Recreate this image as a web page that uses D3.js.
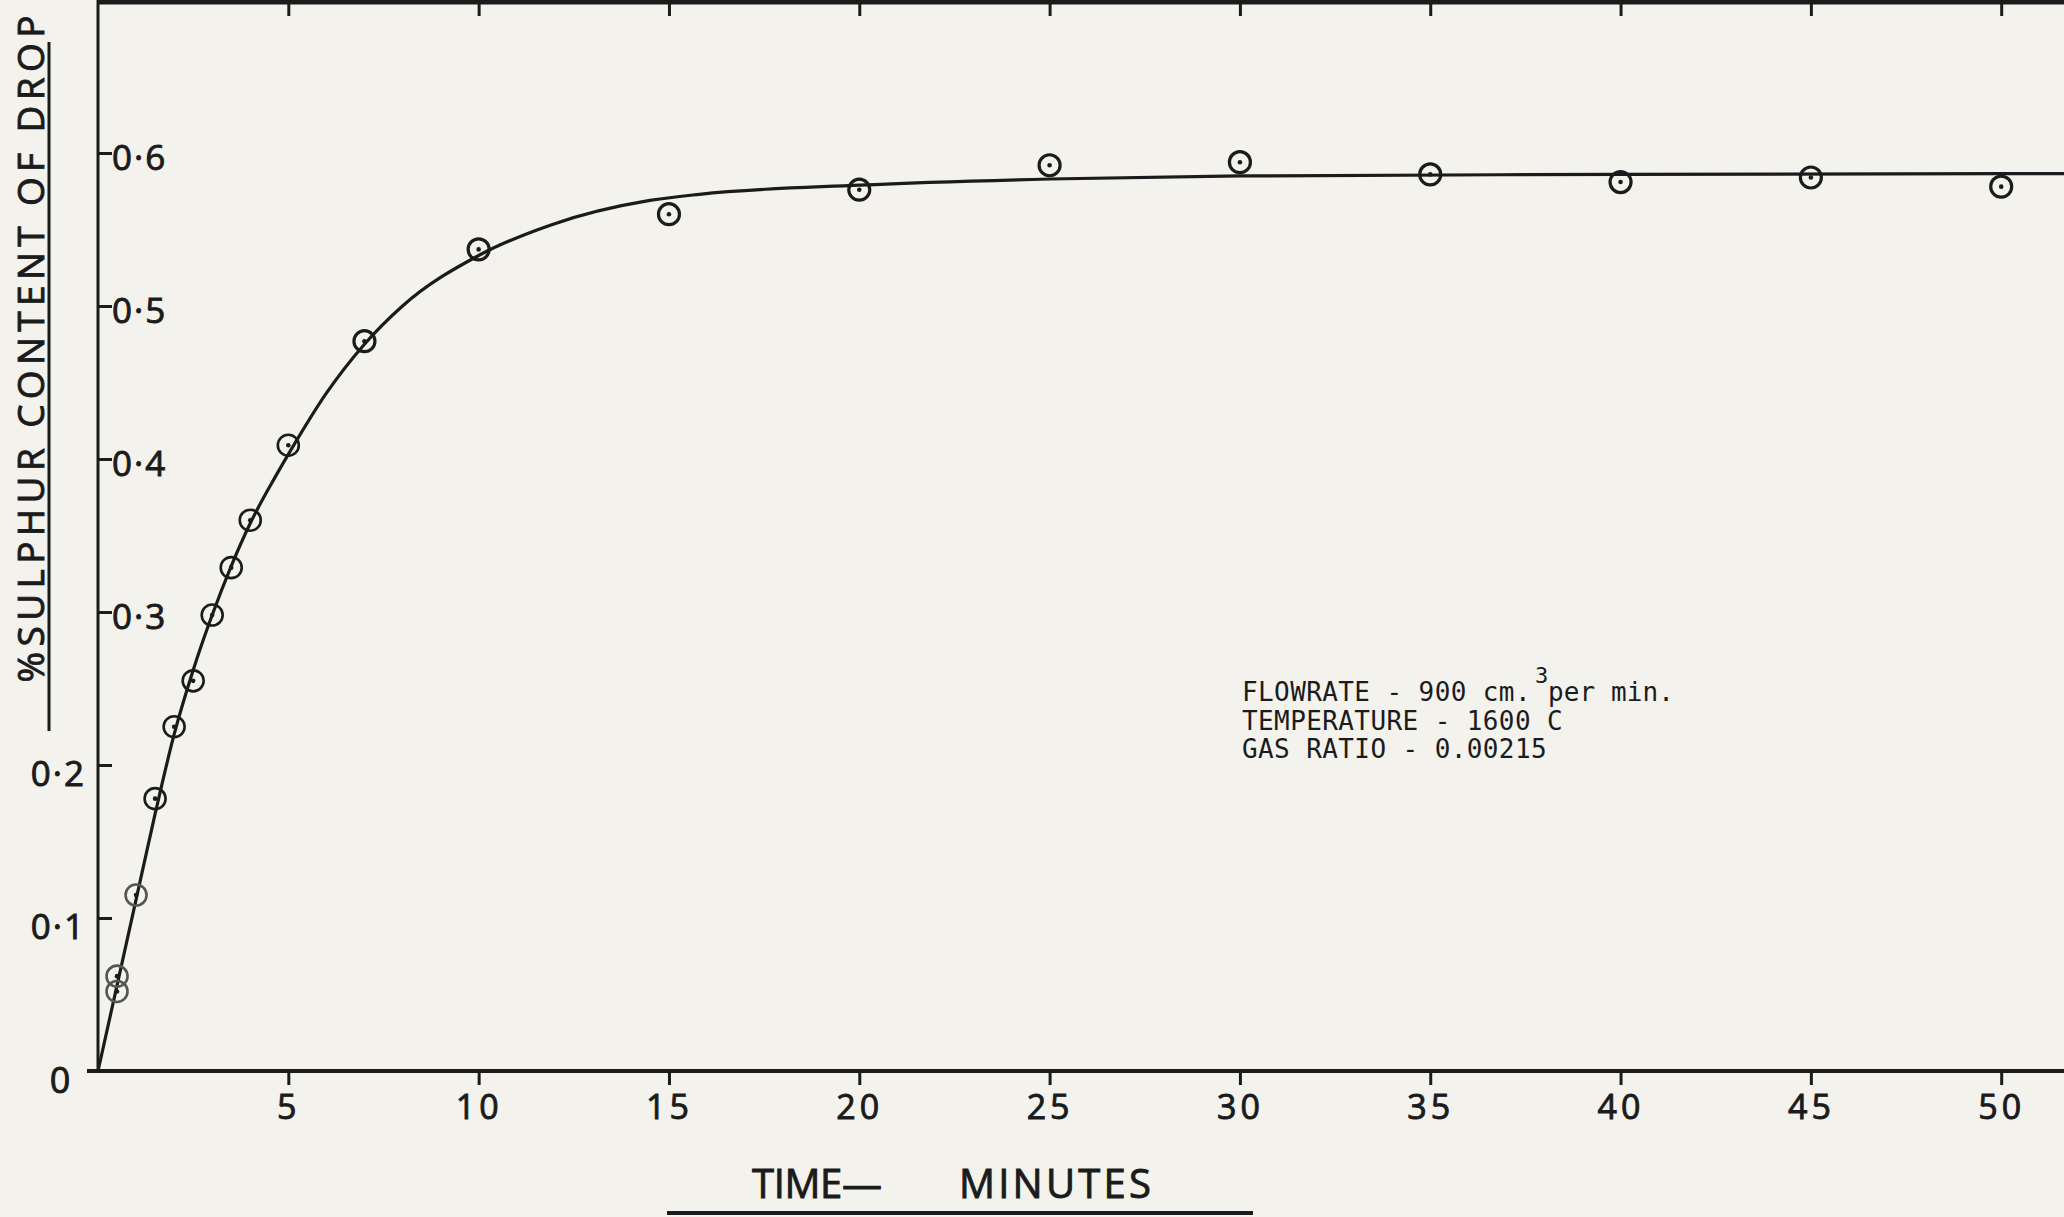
<!DOCTYPE html>
<html><head><meta charset="utf-8">
<script src="https://cdn.jsdelivr.net/npm/d3@7"></script>
<style>html,body{margin:0;padding:0;background:#f3f2ed;overflow:hidden}</style>
</head><body><svg id="c" width="2064" height="1217"></svg>
<script>
// ---- data ----
const times   = [0.5, 0.5, 1, 1.5, 2, 2.5, 3, 3.5, 4, 5, 7, 10, 15, 20, 25, 30, 35, 40, 45, 50];
const sulphur = [0.052, 0.062, 0.115, 0.178, 0.225, 0.255, 0.298, 0.329, 0.360, 0.409, 0.477, 0.537, 0.560, 0.576, 0.592, 0.594, 0.586, 0.581, 0.584, 0.578];
const curveTimes  = [0, 0.5, 1, 1.5, 2, 2.5, 3, 3.5, 4, 4.65, 5, 6, 7, 8, 10, 11.9, 14.5, 15.8, 20, 25, 30, 40, 51.65];
const curveValues = [0, 0.056, 0.112, 0.168, 0.220, 0.262, 0.298, 0.330, 0.358, 0.388, 0.403, 0.443, 0.475, 0.500, 0.533, 0.553, 0.569, 0.573, 0.579, 0.583, 0.585, 0.586, 0.5865];
const xTicks = [5, 10, 15, 20, 25, 30, 35, 40, 45, 50];
const xTickLabels = ["5", "10", "15", "20", "25", "30", "35", "40", "45", "50"];
const yTicksRight = [0.3, 0.4, 0.5, 0.6];
const yTicksRightLabels = ["0·3", "0·4", "0·5", "0·6"];
const yTicksLeft = [0.1, 0.2];
const yTicksLeftLabels = ["0·1", "0·2"];
const zeroLabel = "0";
const yTitle = "%SULPHUR CONTENT OF DROP";
const xTitleA = "TIME—";
const xTitleB = "MINUTES";
const noteLines = ["FLOWRATE - 900 cm.", "TEMPERATURE - 1600 C", "GAS RATIO - 0.00215"];
const noteSup = "3";
const noteTail = "per min.";

// ---- drawing ----
const ink = "#1b1b1b";
const svg = d3.select("#c");
svg.append("rect").attr("width", 2064).attr("height", 1217).attr("fill", "#f3f2ed");

const x = d3.scaleLinear().domain([0, 51.65]).range([98, 2064]);
const y = d3.scaleLinear().domain([0, 0.7]).range([1071, 0]);
const font = "'Open Sans', 'DejaVu Sans', sans-serif";
const bold = sel => sel.attr("stroke", ink).attr("stroke-width", 0.9).attr("paint-order", "stroke");

// axes frame
svg.append("line").attr("x1", 87).attr("x2", 2064).attr("y1", y(0)).attr("y2", y(0))
  .attr("stroke", ink).attr("stroke-width", 4);
svg.append("line").attr("x1", x(0)).attr("x2", x(0)).attr("y1", 0).attr("y2", y(0))
  .attr("stroke", ink).attr("stroke-width", 3);
svg.append("line").attr("x1", x(0) - 1).attr("x2", 2064).attr("y1", 2).attr("y2", 2)
  .attr("stroke", ink).attr("stroke-width", 5);

// bottom axis ticks + labels
const gBottom = svg.append("g").attr("transform", `translate(0,${y(0)})`)
  .call(d3.axisBottom(x).tickValues(xTicks).tickSize(14).tickFormat((d, i) => xTickLabels[i]));
gBottom.select(".domain").remove();
gBottom.selectAll(".tick line").attr("stroke", ink).attr("stroke-width", 3);
gBottom.selectAll(".tick text").attr("fill", ink).attr("font-family", font)
  .attr("font-size", 34).attr("letter-spacing", 4)
  .attr("y", 24).attr("dy", "0.71em").call(bold);

// top ticks
const gTop = svg.append("g").attr("transform", "translate(0,3)")
  .call(d3.axisBottom(x).tickValues(xTicks).tickSize(13).tickFormat(""));
gTop.select(".domain").remove();
gTop.selectAll(".tick line").attr("stroke", ink).attr("stroke-width", 3);

// left axis ticks (inward)
const yAll = yTicksLeft.concat(yTicksRight);
const gLeft = svg.append("g").attr("transform", `translate(${x(0)},0)`)
  .call(d3.axisRight(y).tickValues(yAll).tickSize(14).tickFormat(""));
gLeft.select(".domain").remove();
gLeft.selectAll(".tick line").attr("stroke", ink).attr("stroke-width", 3);

svg.append("g").selectAll("text").data(yTicksRight).join("text")
  .attr("x", x(0) + 14).attr("y", d => y(d) + 4).attr("dy", "0.36em")
  .attr("font-family", font).attr("font-size", 35).attr("letter-spacing", 2)
  .attr("fill", ink).text((d, i) => yTicksRightLabels[i]).call(bold);
svg.append("g").selectAll("text").data(yTicksLeft).join("text")
  .attr("x", x(0) - 12).attr("y", d => y(d) + 8).attr("dy", "0.36em")
  .attr("text-anchor", "end")
  .attr("font-family", font).attr("font-size", 35).attr("letter-spacing", 2)
  .attr("fill", ink).text((d, i) => yTicksLeftLabels[i]).call(bold);
svg.append("text").attr("x", 60).attr("y", y(0) + 9).attr("dy", "0.36em")
  .attr("text-anchor", "middle").attr("font-family", font).attr("font-size", 36)
  .attr("fill", ink).text(zeroLabel).call(bold);

// y title with underline
svg.append("text").attr("transform", "translate(44,349) rotate(-90)")
  .attr("text-anchor", "middle").attr("font-family", font).attr("font-size", 37)
  .attr("textLength", 667).attr("lengthAdjust", "spacing")
  .attr("fill", ink).text(yTitle).call(bold);
svg.append("line").attr("x1", 49).attr("x2", 49).attr("y1", 42).attr("y2", 731)
  .attr("stroke", ink).attr("stroke-width", 3);

// x title with underline
svg.append("text").attr("x", 752).attr("y", 1198).attr("font-family", font).attr("font-size", 40)
  .attr("textLength", 130).attr("lengthAdjust", "spacing").attr("fill", ink).text(xTitleA).call(bold);
svg.append("text").attr("x", 959).attr("y", 1198).attr("font-family", font).attr("font-size", 40)
  .attr("textLength", 192).attr("lengthAdjust", "spacing").attr("fill", ink).text(xTitleB).call(bold);
svg.append("line").attr("x1", 667).attr("x2", 1253).attr("y1", 1213).attr("y2", 1213)
  .attr("stroke", ink).attr("stroke-width", 4);

// fitted curve
const curveData = curveTimes.map((t, i) => [t, curveValues[i]]);
svg.append("path").datum(curveData)
  .attr("d", d3.line().x(d => x(d[0])).y(d => y(d[1])).curve(d3.curveMonotoneX))
  .attr("fill", "none").attr("stroke", ink).attr("stroke-width", 3.2);

// data points: circle with centre dot
const pts = times.map((t, i) => ({ t, v: sulphur[i], i }));
const pg = svg.append("g");
pg.selectAll("circle.o").data(pts).join("circle").attr("class", "o")
  .attr("cx", d => x(d.t)).attr("cy", d => y(d.v)).attr("r", 10.5)
  .attr("fill", "none").attr("stroke", d => d.i < 3 ? "#555" : ink)
  .attr("stroke-width", d => d.i < 10 ? 2.6 : 3.2);
pg.selectAll("circle.d").data(pts).join("circle").attr("class", "d")
  .attr("cx", d => x(d.t)).attr("cy", d => y(d.v)).attr("r", 2.3).attr("fill", ink);

// annotation
const mono = "'DejaVu Sans Mono', 'Liberation Mono', monospace";
const ng = svg.append("g").attr("font-family", mono).attr("font-size", 26).attr("fill", ink);
ng.selectAll("text.l").data(noteLines).join("text").attr("class", "l")
  .attr("x", 1242).attr("y", (d, i) => 701 + i * 28.5).attr("letter-spacing", 0.4).text(d => d);
ng.append("text").attr("x", 1535).attr("y", 683).attr("font-size", 22).text(noteSup);
ng.append("text").attr("x", 1548).attr("y", 701).attr("letter-spacing", 0.1).text(noteTail);
</script></body></html>
